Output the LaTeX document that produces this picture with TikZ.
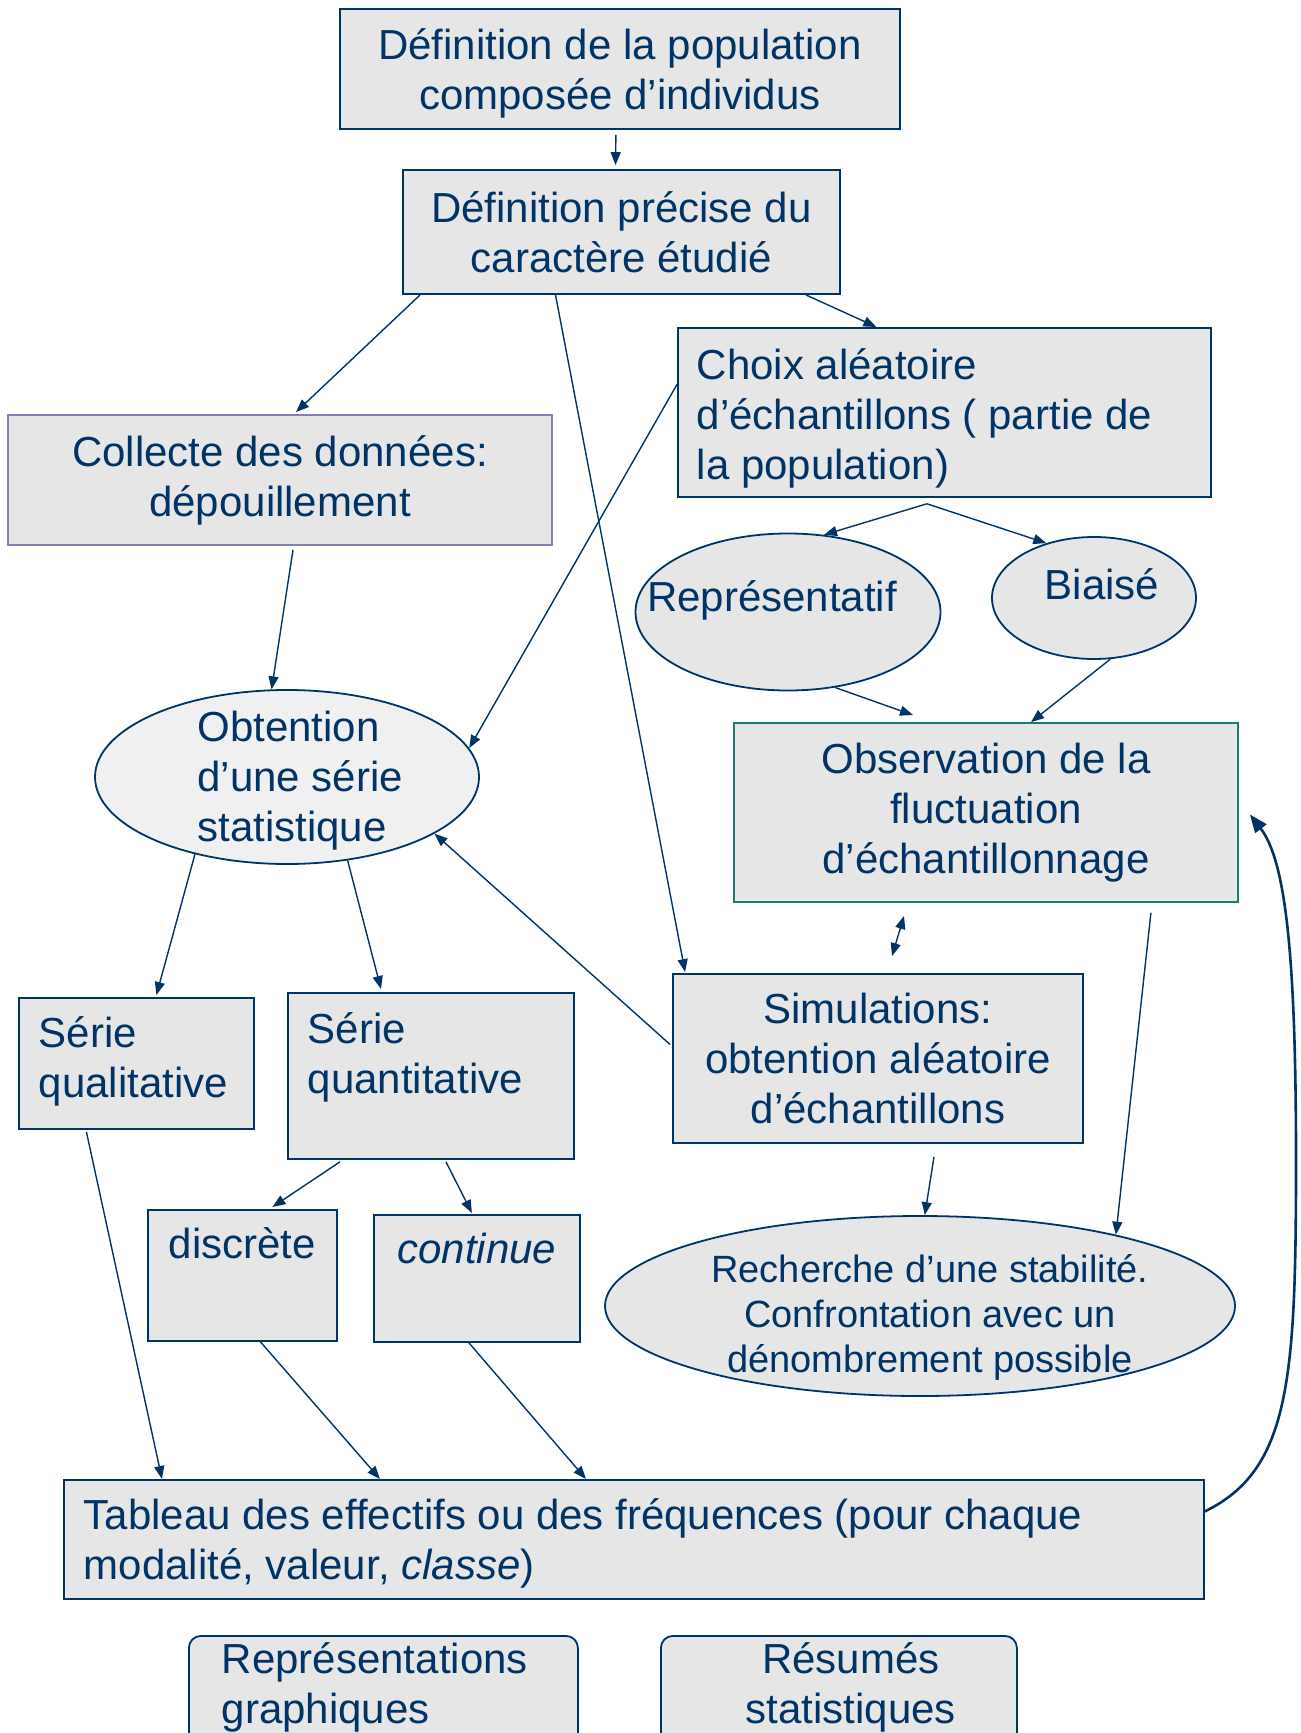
\documentclass[tikz,border=0pt]{standalone}
\usepackage{fontspec}
\setmainfont{Liberation Sans}
\usetikzlibrary{arrows.meta,shapes.geometric}
\definecolor{statnavy}{HTML}{003366}
\definecolor{statgray}{HTML}{E6E6E6}
\definecolor{statpale}{HTML}{F0F0F0}
\definecolor{statteal}{HTML}{17806F}
\definecolor{statlilac}{HTML}{8380B6}
\tikzset{
  st/box/.style={
    draw=statnavy, fill=statgray, line width=0.9pt, text=statnavy,
    inner sep=0pt, font=\fontsize{21}{25}\selectfont
  },
  st/oval/.style={
    ellipse, draw=statnavy, fill=statgray, line width=0.9pt, inner sep=0pt
  },
  st/txt/.style={text=statnavy, inner sep=0pt, font=\fontsize{21}{25}\selectfont},
  st/arr/.style={-{Triangle[length=6.5pt,width=5pt]}, statnavy, line width=0.7pt}
}

\begin{document}
\begin{tikzpicture}[x=0.5pt, y=-0.5pt]
  \useasboundingbox (0,0) rectangle (1300,1733);
  \clip (0,0) rectangle (1300,1733);

  \node[st/box, anchor=north west, text width=280pt, text height=25.5pt, text depth=34.5pt,
    align=flush center] (defpop) at (339,8) {Définition de la population\\composée d’individus};
  \node[st/box, minimum width=218.5pt, minimum height=62pt, align=center] (defcar) at (621.5,232)
    {Définition précise du\\caractère étudié};
  \node[st/box, draw=statlilac, minimum width=272pt, minimum height=65pt, align=center] (collecte) at (280,480)
    {Collecte des données:\\dépouillement};
  \node[st/box, anchor=north west, text width=247.5pt, inner xsep=9.5pt, text height=26pt, text depth=58.5pt,
    align=flush left] (choix) at (677,327) {Choix aléatoire\\d’échantillons ( partie de\\la population)};

  \node[st/oval, minimum width=152.5pt, minimum height=78.5pt] (repr) at (788,612) {};
  \node[st/txt] (reprtext) at (772,600) {Représentatif};
  \node[st/oval, minimum width=102pt, minimum height=61pt] (biais) at (1094,598) {};
  \node[st/txt] (biaistext) at (1102,584) {Biaisé};
  \node[st/oval, fill=statpale, minimum width=192pt, minimum height=87pt] (obten) at (287,777) {};
  \node[st/txt, anchor=west, align=left] (obtentext) at (197,781) {Obtention\\d’une série\\statistique};

  \node[st/box, draw=statteal, minimum width=252pt, minimum height=89.5pt, align=center] (observ) at (986,812.5)
    {Observation de la\\fluctuation\\d’échantillonnage};
  \node[st/box, minimum width=205pt, minimum height=84.5pt, align=center] (simul) at (878,1058.5)
    {Simulations:\\obtention aléatoire\\d’échantillons};

  \node[st/box, anchor=north west, text width=97.5pt, inner xsep=10pt, text height=25pt, text depth=40.5pt,
    align=flush left] (qualit) at (18,997) {Série\\qualitative};
  \node[st/box, anchor=north west, text width=123pt, inner xsep=10pt, text height=25.5pt, text depth=57.5pt,
    align=flush left] (quantit) at (287,992) {Série\\quantitative};
  \node[st/box, anchor=north west, text width=94.5pt, text height=24.5pt, text depth=41pt,
    align=flush center] (discrete) at (147,1209) {discrète};
  \node[st/box, anchor=north west, text width=103pt, text height=24.5pt, text depth=39pt,
    align=flush center] (continue) at (373,1214) {\textit{continue}};

  \node[st/oval, minimum width=315pt, minimum height=90pt] (recherche) at (920,1306) {};
  \node[st/txt, font=\fontsize{19}{22.5}\selectfont, align=center] (recherchetext) at (930,1317)
    {Recherche d’une stabilité.\\Confrontation avec un\\dénombrement possible};

  \node[st/box, anchor=north west, text width=550pt, inner xsep=10pt, text height=25pt, text depth=34.5pt,
    align=flush left] (tableau) at (63,1479)
    {Tableau des effectifs ou des fréquences (pour chaque\\modalité, valeur, \textit{classe})};
  \node[st/box, rounded corners=6pt, anchor=north west, text width=161.5pt, inner xsep=16.5pt,
    text height=19pt, text depth=70pt, align=flush left] (graph) at (188,1635) {Représentations\\graphiques};
  \node[st/box, rounded corners=6pt, anchor=north west, text width=178pt,
    text height=19pt, text depth=70pt, align=flush center] (resume) at (660,1635)
    {\hspace*{12pt}Résumés\\\hspace*{12pt}statistiques};

  \draw[st/arr] ([xshift=-2pt,yshift=-2.5pt]defpop.south) -- ([xshift=-3pt,yshift=2pt]defcar.north);
  \draw[st/arr] ([xshift=9pt]defcar.south west) -- ([xshift=8pt,yshift=1pt]collecte.north);
  \draw[st/arr] ([xshift=-33pt]defcar.south) -- ([xshift=6.5pt,yshift=0.5pt]simul.north west);
  \draw[st/arr] ([xshift=-17.5pt]defcar.south east) -- ([xshift=-34pt]choix.north);
  \draw[st/arr] ([yshift=14pt]choix.west) -- (obten.9);
  \coordinate (fork) at ([xshift=-8.75pt,yshift=-3pt]choix.south);
  \draw[st/arr] (fork) -- (repr.65);
  \draw[st/arr] (fork) -- (biais.131);
  \draw[st/arr] ([xshift=6.5pt,yshift=-2pt]collecte.south) -- (obten.100);
  \draw[st/arr] (repr.-58) -- ([xshift=-36.5pt,yshift=3.5pt]observ.north);
  \draw[st/arr] (biais.-75) -- ([xshift=22.5pt]observ.north);
  \draw[st/arr] (obten.220) -- ([xshift=10pt,yshift=1pt]qualit.north);
  \draw[st/arr] (obten.-54) -- ([xshift=47pt,yshift=1.5pt]quantit.north west);
  \draw[st/arr] ([xshift=-1pt,yshift=7pt]simul.west) -- (obten.-21);
  \draw[st/arr, {Triangle[length=6.5pt,width=5pt]}-{Triangle[length=6.5pt,width=5pt]}]
    ([xshift=-41pt,yshift=-6.5pt]observ.south) -- ([xshift=7pt,yshift=8.5pt]simul.north);
  \draw[st/arr] ([xshift=28pt,yshift=-6.5pt]simul.south) -- (recherche.87);
  \draw[st/arr] ([xshift=-44pt,yshift=-5pt]observ.south east) -- (recherche.20);
  \draw[st/arr] ([xshift=26.5pt,yshift=-1pt]quantit.south west) -- ([xshift=15pt,yshift=1pt]discrete.north);
  \draw[st/arr] ([xshift=7.5pt,yshift=-1pt]quantit.south) -- ([xshift=-2.5pt,yshift=0.5pt]continue.north);
  \draw[st/arr] ([xshift=-25pt,yshift=-1pt]qualit.south) -- ([xshift=49.5pt]tableau.north west);
  \draw[st/arr] ([xshift=9pt]discrete.south) -- ([xshift=158.5pt]tableau.north west);
  \draw[st/arr] ([xshift=-4pt]continue.south) -- ([xshift=261.5pt]tableau.north west);
  % retour du tableau vers l'observation
  \draw[st/arr, line width=1.3pt, -{Triangle[length=9pt,width=7pt]}]
    ([yshift=14pt]tableau.east) .. controls (1290,1470) and (1296,1380) .. (1296,1160)
    .. controls (1296,950) and (1285,860) .. ([xshift=5.5pt,yshift=-1pt]observ.east);
\end{tikzpicture}
\end{document}
